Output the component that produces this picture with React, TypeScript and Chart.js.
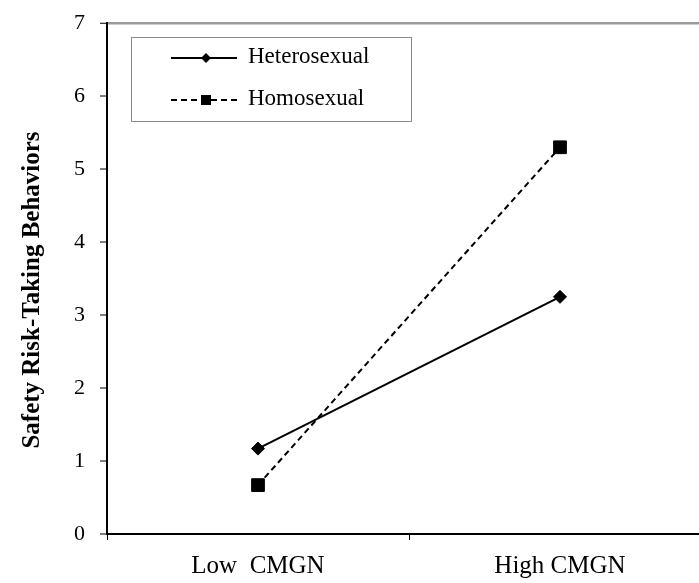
import React, { useEffect, useRef } from "react";
import { Chart, registerables } from "chart.js";

Chart.register(...registerables);

const categories = ["Low  CMGN", "High CMGN"];
const heterosexual = [1.17, 3.25];
const homosexual = [0.67, 5.3];
const seriesNames = ["Heterosexual", "Homosexual"];
const yMin = 0;
const yMax = 7;
const yStep = 1;
const yTitle = "Safety Risk-Taking Behaviors";

const SERIF = "'Liberation Serif', 'Times New Roman', serif";
const SHIFT = 5;

const boxLegend = {
  id: "boxLegend",
  afterDraw(chart: any) {
    const ctx = chart.ctx as CanvasRenderingContext2D;
    ctx.save();
    ctx.translate(0, SHIFT);
    // y axis title
    ctx.save();
    ctx.translate(33, 290);
    ctx.rotate(-Math.PI / 2);
    ctx.fillStyle = "#000";
    ctx.font = `bold 25px ${SERIF}`;
    ctx.textAlign = "center";
    ctx.textBaseline = "middle";
    ctx.fillText(yTitle, 0, 0);
    ctx.restore();

    const bx = 131, by = 37, bw = 280, bh = 84;
    ctx.strokeStyle = "#8a8a8a";
    ctx.lineWidth = 1;
    ctx.strokeRect(bx + 0.5, by + 0.5, bw, bh);
    const rows = [58, 100];
    chart.data.datasets.forEach((ds: any, i: number) => {
      const y = rows[i];
      ctx.beginPath();
      ctx.setLineDash(ds.borderDash || []);
      ctx.lineWidth = ds.borderWidth;
      ctx.strokeStyle = ds.borderColor;
      ctx.moveTo(171, y);
      ctx.lineTo(237, y);
      ctx.stroke();
      ctx.setLineDash([]);
      ctx.fillStyle = ds.pointBackgroundColor;
      const cx = 206;
      ctx.beginPath();
      if (ds.pointStyle === "rectRot") {
        const r = 5;
        ctx.moveTo(cx, y - r);
        ctx.lineTo(cx + r, y);
        ctx.lineTo(cx, y + r);
        ctx.lineTo(cx - r, y);
        ctx.closePath();
      } else {
        const s = 5;
        ctx.rect(cx - s, y - s, 2 * s, 2 * s);
      }
      ctx.fill();
      ctx.fillStyle = "#000";
      ctx.font = `23px ${SERIF}`;
      ctx.textAlign = "left";
      ctx.textBaseline = "middle";
      ctx.fillText(ds.label, 248, y - 1);
    });
    ctx.restore();
  },
};

export default function App() {
  const ref = useRef<HTMLCanvasElement | null>(null);
  useEffect(() => {
    if (!ref.current) return;
    const chart = new Chart(ref.current, {
      type: "line",
      data: {
        labels: categories,
        datasets: [
          {
            label: seriesNames[0],
            data: heterosexual,
            borderColor: "#000",
            backgroundColor: "#000",
            borderWidth: 2,
            pointStyle: "rectRot",
            pointRadius: 6.5,
            pointBackgroundColor: "#000",
            pointBorderColor: "#000",
            pointBorderWidth: 1,
            tension: 0,
          },
          {
            label: seriesNames[1],
            data: homosexual,
            borderColor: "#000",
            backgroundColor: "#000",
            borderWidth: 2,
            borderDash: [6, 4],
            pointStyle: "rect",
            pointRadius: 9,
            pointBackgroundColor: "#000",
            pointBorderColor: "#000",
            pointBorderWidth: 1,
            tension: 0,
          },
        ],
      },
      options: {
        animation: false,
        responsive: false,
        devicePixelRatio: 1,
        layout: { padding: { top: 18, left: 0, right: 0, bottom: 0 } },
        plugins: {
          legend: { display: false },
          tooltip: { enabled: false },
        },
        scales: {
          x: {
            type: "category",
            offset: true,
            grid: {
              offset: true,
              drawOnChartArea: false,
              drawTicks: true,
              tickLength: 6,
              tickColor: "#000",
              tickWidth: 1,
            },
            border: { display: true, color: "#000", width: 2 },
            ticks: {
              color: "#000",
              font: { family: SERIF, size: 25 },
              padding: 11,
              maxRotation: 0,
            },
            afterFit: (s: any) => {
              s.height = 49;
            },
          },
          y: {
            min: yMin,
            max: yMax,
            ticks: {
              stepSize: yStep,
              color: "#000",
              font: { family: SERIF, size: 22 },
              padding: 15,
            },
            grid: {
              drawTicks: true,
              tickLength: 7,
              tickColor: "#000",
              tickWidth: 1,
              color: (c: any) => (c.tick && c.tick.value === yMax ? "#9a9a9a" : "rgba(0,0,0,0)"),
              lineWidth: (c: any) => (c.tick && c.tick.value === yMax ? 2.5 : 0),
            },
            border: { display: true, color: "#000", width: 2 },
            title: { display: false },
            afterFit: (s: any) => {
              s.width = 107;
            },
          },
        },
      },
      plugins: [boxLegend],
    });
    return () => chart.destroy();
  }, []);
  return (
    <div
      style={{
        position: "fixed",
        left: 0,
        top: 0,
        width: 699,
        height: 583,
        overflow: "hidden",
        background: "#fff",
      }}
    >
      <canvas
        ref={ref}
        width={721}
        height={583 + SHIFT}
        style={{ width: 721, height: 583 + SHIFT, display: "block", marginTop: -SHIFT }}
      />
    </div>
  );
}
